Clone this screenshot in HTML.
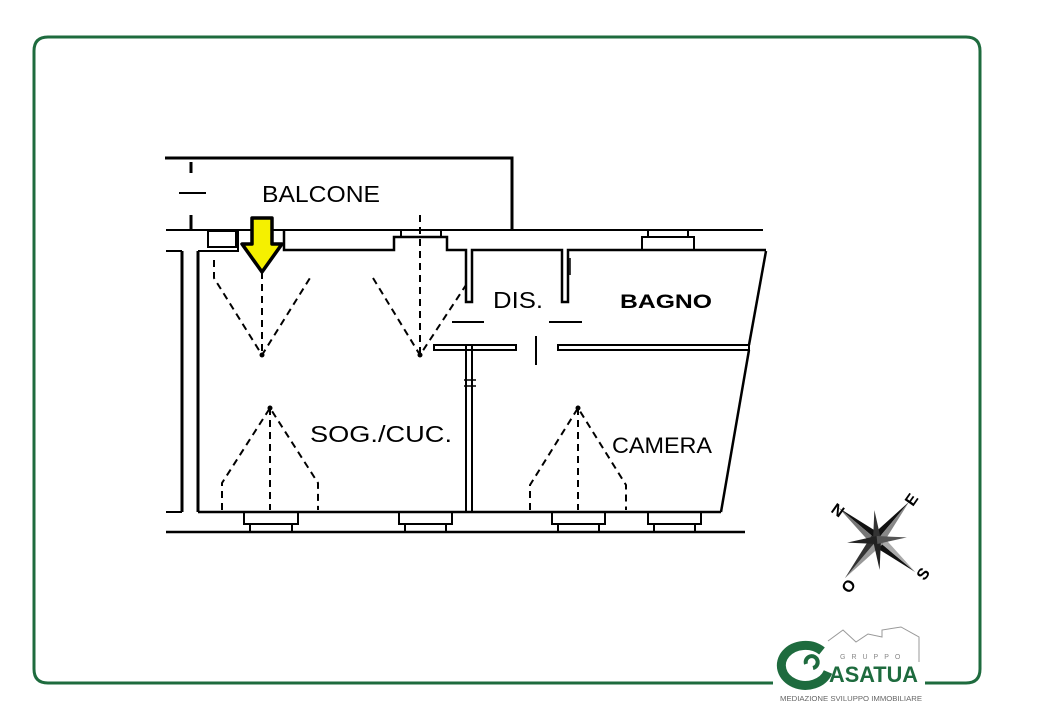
<!DOCTYPE html>
<html><head><meta charset="utf-8"><style>
html,body{margin:0;padding:0;background:#fff;}
svg{display:block;}
text{font-family:"Liberation Sans",sans-serif;}
</style></head><body>
<svg width="1040" height="720" viewBox="0 0 1040 720" xmlns="http://www.w3.org/2000/svg">
<rect width="1040" height="720" fill="#fff"/>
<path d="M773 683 H48 Q34 683 34 669 V51 Q34 37 48 37 H966 Q980 37 980 51 V669 Q980 683 966 683 H925" fill="none" stroke="#1e6b3e" stroke-width="3"/>
<g stroke="#000" stroke-width="3" fill="none">
<polyline points="165,158 512,158 512,230"/>
<line x1="191" y1="162" x2="191" y2="173"/>
<line x1="191" y1="215" x2="191" y2="229"/>
<line x1="179" y1="193" x2="206" y2="193" stroke-width="2"/>
<line x1="166" y1="230" x2="763" y2="230" stroke-width="2"/>
<line x1="166" y1="251" x2="182" y2="251" stroke-width="2"/>
<line x1="182" y1="251" x2="182" y2="512"/>
<line x1="166" y1="512" x2="182" y2="512" stroke-width="2"/>
<line x1="198" y1="251" x2="198" y2="512"/>
<rect x="208" y="231" width="28" height="16" stroke-width="2"/>
<polyline points="198,251 238,251 238,231" stroke-width="2"/>
<polyline points="284,231 284,250 394,250 394,237 447,237 447,250 466,250 466,302 472,302 472,250 562,250 562,302 568,302 568,250 766,250" stroke-width="2.5"/>
<rect x="401" y="230" width="40" height="7" stroke-width="2"/>
<polyline points="642,250 642,237 694,237 694,250" stroke-width="2"/>
<rect x="648" y="230" width="40" height="7" stroke-width="2"/>
<line x1="766" y1="251" x2="749" y2="345" stroke-width="2.5"/>
<line x1="749" y1="350" x2="721" y2="512" stroke-width="2.5"/>
<rect x="558" y="345" width="191" height="5" stroke-width="2"/>
<rect x="434" y="345" width="82" height="5" stroke-width="2"/>
<line x1="536" y1="336" x2="536" y2="365" stroke-width="2"/>
<line x1="452" y1="322" x2="484" y2="322" stroke-width="2"/>
<line x1="549" y1="322" x2="582" y2="322" stroke-width="2"/>
<line x1="570" y1="258" x2="570" y2="275" stroke-width="1.5"/>
<rect x="466" y="345" width="6" height="167" stroke-width="2"/>
<line x1="464" y1="380" x2="476" y2="380" stroke-width="1.5"/>
<line x1="464" y1="386" x2="476" y2="386" stroke-width="1.5"/>
<line x1="198" y1="512" x2="721" y2="512" stroke-width="2.5"/>
<line x1="166" y1="532" x2="745" y2="532" stroke-width="2.5"/>
<g stroke-width="2">
<rect x="244" y="512" width="54" height="12"/><rect x="250" y="524" width="42" height="8"/>
<rect x="399" y="512" width="53" height="12"/><rect x="405" y="524" width="41" height="8"/>
<rect x="552" y="512" width="53" height="12"/><rect x="558" y="524" width="41" height="8"/>
<rect x="648" y="512" width="53" height="12"/><rect x="654" y="524" width="41" height="8"/>
</g>
</g>
<g stroke="#000" stroke-width="2" fill="none" stroke-dasharray="7,5">
<polyline points="214,260 214,278 262,355 310,278"/>
<line x1="262" y1="272" x2="262" y2="355"/>
<polyline points="373,278 420,355 466,285"/>
<line x1="420" y1="215" x2="420" y2="355"/>
<polyline points="222,510 222,483 270,408 318,483 318,510"/>
<line x1="270" y1="408" x2="270" y2="510"/>
<polyline points="530,510 530,485 578,408 626,485 626,510"/>
<line x1="578" y1="408" x2="578" y2="510"/>
</g>
<g fill="#000"><circle cx="262" cy="355" r="2.5"/><circle cx="420" cy="355" r="2.5"/><circle cx="270" cy="408" r="2.5"/><circle cx="578" cy="408" r="2.5"/></g>
<polygon points="252,218 272,218 272,244 282,244 262,272 242,244 252,244" fill="#f5f000" stroke="#000" stroke-width="3.5" stroke-linejoin="round"/>
<text x="262" y="202" font-size="23" textLength="118" lengthAdjust="spacingAndGlyphs">BALCONE</text>
<text x="493" y="308" font-size="23" textLength="50" lengthAdjust="spacingAndGlyphs">DIS.</text>
<text x="620" y="308" font-size="19" font-weight="bold" textLength="92" lengthAdjust="spacingAndGlyphs">BAGNO</text>
<text x="310" y="442" font-size="23" textLength="142" lengthAdjust="spacingAndGlyphs">SOG./CUC.</text>
<text x="612" y="453" font-size="22" textLength="100" lengthAdjust="spacingAndGlyphs">CAMERA</text>
<g transform="translate(877,540)">
<g transform="rotate(-50)">
<polygon points="0,-50 7,0 0,0" fill="#111"/><polygon points="0,-50 -7,0 0,0" fill="#777"/>
<polygon points="0,50 -7,0 0,0" fill="#111"/><polygon points="0,50 7,0 0,0" fill="#aaa"/>
<polygon points="-50,0 0,7 0,0" fill="#999"/><polygon points="-50,0 0,-7 0,0" fill="#333"/>
<polygon points="50,0 0,-7 0,0" fill="#111"/><polygon points="50,0 0,7 0,0" fill="#888"/>
</g>
<g transform="rotate(-5)">
<polygon points="0,-30 4,0 -4,0" fill="#333"/><polygon points="0,30 4,0 -4,0" fill="#222"/>
<polygon points="-30,0 0,4 0,-4" fill="#222"/><polygon points="30,0 0,-4 0,4" fill="#555"/>
</g>
</g>
<g font-weight="bold" font-size="16" fill="#000">
<text x="832" y="517" transform="rotate(35 840 511)">N</text>
<text x="905" y="504" transform="rotate(-55 912 498)">E</text>
<text x="917" y="579" transform="rotate(-55 923 573)">S</text>
<text x="842" y="592" transform="rotate(-55 848 586)">O</text>
</g>
<polyline points="828,641 843,630 856,642 868,634 882,637 882,630 901,627 919,637 919,662" fill="none" stroke="#999" stroke-width="1"/>
<path d="M822 651 A24 20 0 1 0 828 672" fill="none" stroke="#1e6b3e" stroke-width="9"/>
<path d="M806 664 A6 6 0 1 1 813 668" fill="none" stroke="#1e6b3e" stroke-width="4"/>
<text x="840" y="659" font-size="7" fill="#888" letter-spacing="6">GRUPPO</text>
<text x="829" y="682" font-size="22" font-weight="bold" fill="#1e6b3e" textLength="89" lengthAdjust="spacingAndGlyphs">ASATUA</text>
<text x="780" y="701" font-size="7.5" fill="#666" textLength="142" lengthAdjust="spacingAndGlyphs">MEDIAZIONE SVILUPPO IMMOBILIARE</text>
</svg>
</body></html>
